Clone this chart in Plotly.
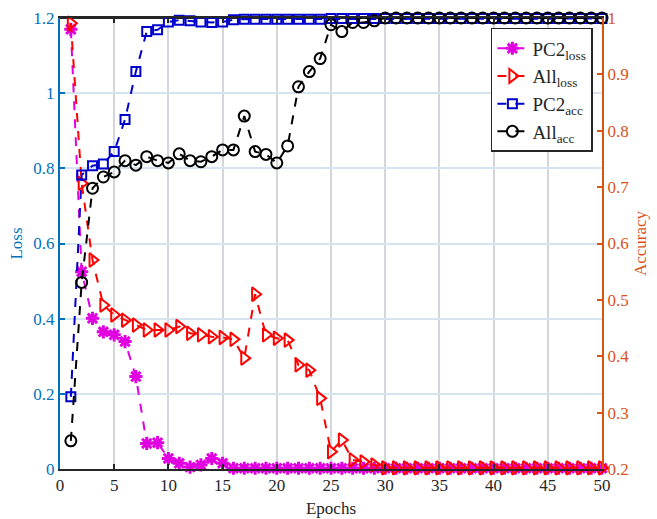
import plotly.graph_objects as go

epochs = list(range(1, 51))

pc2_loss = [1.17, 0.525, 0.401, 0.365, 0.357, 0.339, 0.246, 0.068, 0.070, 0.028,
            0.015, 0.005, 0.011, 0.028, 0.015, 0.002, 0.002, 0.002, 0.002, 0.002,
            0.002, 0.002, 0.002, 0.002, 0.002, 0.002, 0.002, 0.002, 0.002, 0.002,
            0.002, 0.002, 0.002, 0.002, 0.002, 0.002, 0.002, 0.002, 0.002, 0.002,
            0.002, 0.002, 0.002, 0.002, 0.002, 0.002, 0.002, 0.002, 0.002, 0.002]

all_loss = [1.186, 0.76, 0.556, 0.436, 0.41, 0.396, 0.383, 0.37, 0.37, 0.37,
            0.379, 0.361, 0.357, 0.352, 0.35, 0.345, 0.295, 0.465, 0.357, 0.348,
            0.343, 0.277, 0.263, 0.188, 0.046, 0.077, 0.024, 0.019, 0.011, 0.003,
            0.003, 0.003, 0.003, 0.003, 0.003, 0.003, 0.003, 0.003, 0.003, 0.003,
            0.003, 0.003, 0.003, 0.003, 0.003, 0.003, 0.003, 0.003, 0.003, 0.003]

pc2_acc = [0.328, 0.7215, 0.738, 0.741, 0.763, 0.82, 0.905, 0.976, 0.979, 0.993,
           0.996, 0.995, 0.993, 0.992, 0.993, 0.997, 0.998, 0.998, 0.998, 0.998,
           0.998, 0.998, 0.998, 0.998, 0.999, 0.999, 0.999, 0.999, 0.999, 0.999,
           0.999, 0.999, 0.999, 0.999, 0.999, 0.999, 0.999, 0.999, 0.999, 0.999,
           0.999, 0.999, 0.999, 0.999, 0.999, 0.999, 0.999, 0.999, 0.999, 0.999]

all_acc = [0.250, 0.531, 0.698, 0.718, 0.727, 0.747, 0.739, 0.754, 0.747, 0.743,
           0.759, 0.747, 0.745, 0.754, 0.766, 0.766, 0.826, 0.763, 0.758, 0.743,
           0.773, 0.878, 0.905, 0.928, 0.988, 0.976, 0.992, 0.992, 0.995, 1.0,
           1.0, 1.0, 1.0, 1.0, 1.0, 1.0, 1.0, 1.0, 1.0, 1.0,
           1.0, 1.0, 1.0, 1.0, 1.0, 1.0, 1.0, 1.0, 1.0, 1.0]

names = ["PC2<sub>loss</sub>", "All<sub>loss</sub>", "PC2<sub>acc</sub>", "All<sub>acc</sub>"]

FONT = "Liberation Serif, Times New Roman, serif"
BLUE_AX = "#0072BD"
ORANGE_AX = "#D95319"

fig = go.Figure()

fig.add_trace(go.Scatter(
    x=epochs, y=pc2_loss, name=names[0], mode="lines+markers",
    line=dict(color="#E000E0", width=2, dash="dash"),
    marker=dict(symbol="asterisk-open", size=11, color="#E000E0",
                line=dict(color="#E000E0", width=3)),
    cliponaxis=False, yaxis="y"))

fig.add_trace(go.Scatter(
    x=epochs, y=all_loss, name=names[1], mode="lines+markers",
    line=dict(color="#FF0000", width=2, dash="dash"),
    marker=dict(symbol="triangle-right-open", size=12, color="#FF0000",
                line=dict(color="#FF0000", width=2)),
    cliponaxis=False, yaxis="y"))

fig.add_trace(go.Scatter(
    x=epochs, y=pc2_acc, name=names[2], mode="lines+markers",
    line=dict(color="#0000CC", width=2, dash="dash"),
    marker=dict(symbol="square-open", size=9, color="#0000CC",
                line=dict(color="#0000CC", width=2)),
    cliponaxis=False, yaxis="y2"))

fig.add_trace(go.Scatter(
    x=epochs, y=all_acc, name=names[3], mode="lines+markers",
    line=dict(color="#000000", width=2, dash="dash"),
    marker=dict(symbol="circle-open", size=11, color="#000000",
                line=dict(color="#000000", width=2)),
    cliponaxis=False, yaxis="y2"))

fig.update_layout(
    width=657, height=519,
    margin=dict(l=60, r=55, t=18, b=50, autoexpand=False),
    paper_bgcolor="white", plot_bgcolor="white",
    font=dict(family=FONT, size=17, color="#262626"),
    showlegend=True,
    legend=dict(x=0.795, y=0.978, xanchor="left", yanchor="top",
                bgcolor="white", bordercolor="#262626", borderwidth=1.5,
                font=dict(family=FONT, size=19, color="#262626"),
                tracegroupgap=2, itemwidth=30),
    xaxis=dict(range=[0, 50], tickvals=list(range(0, 51, 5)),
               showgrid=True, gridcolor="#D3D6DA", gridwidth=2,
               showline=True, linecolor="#262626", linewidth=2,
               mirror="ticks", ticks="inside", ticklen=5, tickwidth=1.5,
               tickcolor="#262626", zeroline=False,
               title=dict(text="Epochs", font=dict(size=17), standoff=8)),
    yaxis=dict(range=[0, 1.2], tickvals=[0, 0.2, 0.4, 0.6, 0.8, 1, 1.2],
               ticktext=["0", "0.2", "0.4", "0.6", "0.8", "1", "1.2"],
               showgrid=True, gridcolor="#D6E4F0", gridwidth=1.5,
               showline=True, linecolor=BLUE_AX, linewidth=2,
               ticks="inside", ticklen=5, tickwidth=1.5, tickcolor=BLUE_AX,
               tickfont=dict(color=BLUE_AX), zeroline=False,
               title=dict(text="Loss", font=dict(color=BLUE_AX, size=17), standoff=6)),
    yaxis2=dict(range=[0.2, 1.0], overlaying="y", side="right",
                tickvals=[0.2, 0.3, 0.4, 0.5, 0.6, 0.7, 0.8, 0.9, 1.0],
                ticktext=["0.2", "0.3", "0.4", "0.5", "0.6", "0.7", "0.8", "0.9", "1"],
                showgrid=False, showline=True, linecolor=ORANGE_AX, linewidth=2,
                ticks="inside", ticklen=5, tickwidth=1.5, tickcolor=ORANGE_AX,
                tickfont=dict(color=ORANGE_AX), zeroline=False,
                title=dict(text="Accuracy", font=dict(color=ORANGE_AX, size=17), standoff=6)),
)

# top border line
fig.add_shape(type="line", xref="paper", yref="paper", x0=0, x1=1, y0=1, y1=1,
              line=dict(color="#262626", width=2), layer="below")

fig.write_html("out.html")
